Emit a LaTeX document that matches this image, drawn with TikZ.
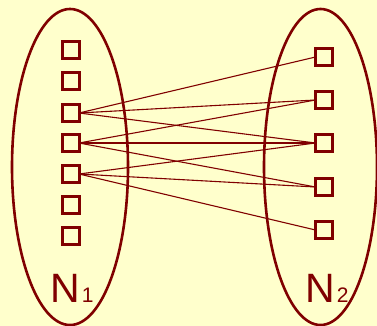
\documentclass[tikz,border=0pt]{standalone}
\usepackage{fontspec}
\setmainfont{Liberation Sans}
\definecolor{bg}{HTML}{FFFFCC}
\definecolor{mar}{HTML}{800000}
\begin{document}
\begin{tikzpicture}[x=1pt,y=-1pt,
  setel/.style={draw=mar,line width=2.6pt},
  elem/.style={draw=mar,line width=3pt,minimum size=17pt,inner sep=0pt,outer sep=0pt},
  link/.style={draw=mar,line width=1.1pt},
  lbl/.style={text=mar,inner sep=0pt,anchor=base west,font=\fontsize{41}{41}\selectfont}]
\fill[bg] (0,0) rectangle (377,326);
\useasboundingbox (0,0) rectangle (377,326);
\draw[setel] (70,167) ellipse [x radius=58, y radius=158];
\draw[setel] (320.5,167) ellipse [x radius=56.5, y radius=158];
\foreach \i/\y in {1/50,2/81,3/113,4/143,5/174,6/205,7/236}
  \node[elem] (L\i) at (70.5,\y) {};
\foreach \i/\y in {1/57,2/100,3/143,4/187,5/230}
  \node[elem] (R\i) at (324,\y) {};
\foreach \a/\b in {3/1,3/2,3/3,4/2,4/3,4/4,5/3,5/4,5/5}
  \draw[link] (L\a.east) -- (R\b.west);
\node[lbl] (n1) at (50,302) {N\kern2pt\raisebox{-0.5pt}{\fontsize{21}{21}\selectfont 1}};
\node[lbl] (n2) at (305,302) {N\kern2pt\raisebox{-0.5pt}{\fontsize{21}{21}\selectfont 2}};
\end{tikzpicture}
\end{document}
